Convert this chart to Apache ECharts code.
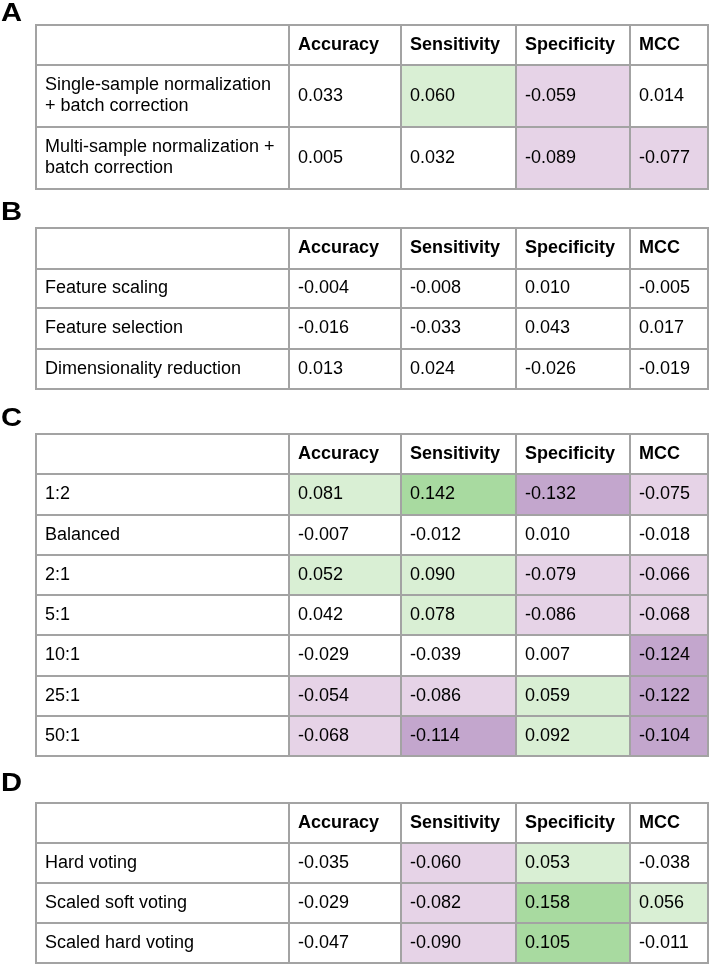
<!DOCTYPE html>
<html>
<head>
<meta charset="utf-8">
<script src="https://cdn.jsdelivr.net/npm/echarts@6/dist/echarts.min.js"></script>
<style>
html,body{margin:0;padding:0;background:#fff;}
#chart{width:709px;height:965px;}
</style>
</head>
<body>
<div id="chart"></div>
<script>
// ---------- DATA ----------
const panelLabels = ['A', 'B', 'C', 'D'];
const columns = ['Accuracy', 'Sensitivity', 'Specificity', 'MCC'];

const rowsA = ['Single-sample normalization\n+ batch correction', 'Multi-sample normalization +\nbatch correction'];
const valuesA = [
  [0.033, 0.060, -0.059, 0.014],
  [0.005, 0.032, -0.089, -0.077]
];

const rowsB = ['Feature scaling', 'Feature selection', 'Dimensionality reduction'];
const valuesB = [
  [-0.004, -0.008, 0.010, -0.005],
  [-0.016, -0.033, 0.043, 0.017],
  [0.013, 0.024, -0.026, -0.019]
];

const rowsC = ['1:2', 'Balanced', '2:1', '5:1', '10:1', '25:1', '50:1'];
const valuesC = [
  [0.081, 0.142, -0.132, -0.075],
  [-0.007, -0.012, 0.010, -0.018],
  [0.052, 0.090, -0.079, -0.066],
  [0.042, 0.078, -0.086, -0.068],
  [-0.029, -0.039, 0.007, -0.124],
  [-0.054, -0.086, 0.059, -0.122],
  [-0.068, -0.114, 0.092, -0.104]
];

const rowsD = ['Hard voting', 'Scaled soft voting', 'Scaled hard voting'];
const valuesD = [
  [-0.035, -0.060, 0.053, -0.038],
  [-0.029, -0.082, 0.158, 0.056],
  [-0.047, -0.090, 0.105, -0.011]
];

// colour thresholds (value bins)
const colorBins = [-0.1, -0.05, 0.05, 0.1];

// ---------- LAYOUT / STYLE ----------
const FONT = '"Liberation Sans", Arial, Helvetica, sans-serif';
const LINE = '#a3a3a3';
const colWidths = [253, 112, 115, 114, 78];
const tableLeft = 36;
const tableTops = [25, 228, 434, 803];
const rowHeightsList = [
  [40, 62, 62],
  [41, 39, 41, 40],
  [40, 41, 40, 40, 40, 41, 40, 40],
  [40, 40, 40, 40]
];
const labelCenters = [13.5, 212.5, 418.5, 783.5];
const palette = {
  darkNeg: '#c3a6cd',
  lightNeg: '#e6d3e7',
  neutral: '#ffffff',
  lightPos: '#d9efd4',
  darkPos: '#a8daa0'
};

function edges(arr) {
  const e = [0];
  arr.forEach(v => e.push(e[e.length - 1] + v));
  return e;
}
const colEdges = edges(colWidths);
const tableWidth = colEdges[colEdges.length - 1];

const tables = [
  { rows: rowsA, values: valuesA },
  { rows: rowsB, values: valuesB },
  { rows: rowsC, values: valuesC },
  { rows: rowsD, values: valuesD }
];

function cellRect(api, c, r, rowEdges) {
  const p0 = api.coord([colEdges[c], rowEdges[r]]);
  const p1 = api.coord([colEdges[c + 1], rowEdges[r + 1]]);
  return {
    x: Math.min(p0[0], p1[0]),
    y: Math.min(p0[1], p1[1]),
    width: Math.abs(p1[0] - p0[0]),
    height: Math.abs(p1[1] - p0[1])
  };
}

function makeCell(rect, fill, text, bold) {
  return {
    type: 'group',
    children: [
      {
        type: 'rect',
        shape: rect,
        style: { fill: fill, stroke: LINE, lineWidth: 2 }
      },
      {
        type: 'text',
        x: rect.x + 9,
        y: rect.y + rect.height / 2,
        style: {
          text: text,
          fill: '#000',
          font: (bold ? 'bold ' : '') + '18px ' + FONT,
          lineHeight: 21,
          textAlign: 'left',
          textVerticalAlign: 'middle'
        }
      }
    ]
  };
}

const grids = [], xAxes = [], yAxes = [], series = [], numericSeries = [];
tables.forEach((t, i) => {
  const rowEdges = edges(rowHeightsList[i]);
  const h = rowEdges[rowEdges.length - 1];
  grids.push({ left: tableLeft, top: tableTops[i], width: tableWidth, height: h });
  xAxes.push({ type: 'value', gridIndex: i, min: 0, max: tableWidth, show: false });
  yAxes.push({ type: 'value', gridIndex: i, min: 0, max: h, inverse: true, show: false });

  // frame: header row + row-label column
  const frameData = [];
  for (let c = 0; c <= columns.length; c++) frameData.push([c, 0]);
  for (let r = 1; r <= t.rows.length; r++) frameData.push([0, r]);
  series.push({
    type: 'custom',
    xAxisIndex: i, yAxisIndex: i,
    silent: true,
    data: frameData,
    renderItem: function (params, api) {
      const c = api.value(0), r = api.value(1);
      const rect = cellRect(api, c, r, rowEdges);
      const text = r === 0 ? (c === 0 ? '' : columns[c - 1]) : t.rows[r - 1];
      return makeCell(rect, '#ffffff', text, r === 0);
    }
  });

  // numeric cells
  const numData = [];
  t.values.forEach((row, r) => row.forEach((v, c) => numData.push([c + 1, r + 1, v])));
  numericSeries.push(series.length);
  series.push({
    type: 'custom',
    xAxisIndex: i, yAxisIndex: i,
    silent: true,
    data: numData,
    renderItem: function (params, api) {
      const c = api.value(0), r = api.value(1), v = api.value(2);
      const rect = cellRect(api, c, r, rowEdges);
      return makeCell(rect, api.visual('color'), v.toFixed(3), false);
    }
  });
});

const chart = echarts.init(document.getElementById('chart'), null, { renderer: 'canvas' });
chart.setOption({
  backgroundColor: '#ffffff',
  animation: false,
  grid: grids,
  xAxis: xAxes,
  yAxis: yAxes,
  visualMap: {
    type: 'piecewise',
    show: false,
    dimension: 2,
    seriesIndex: numericSeries,
    pieces: [
      { lt: colorBins[0], color: palette.darkNeg },
      { gte: colorBins[0], lt: colorBins[1], color: palette.lightNeg },
      { gte: colorBins[1], lt: colorBins[2], color: palette.neutral },
      { gte: colorBins[2], lt: colorBins[3], color: palette.lightPos },
      { gte: colorBins[3], color: palette.darkPos }
    ]
  },
  graphic: panelLabels.map((L, i) => ({
    type: 'text',
    x: 1,
    y: labelCenters[i],
    scaleX: 1.12,
    style: {
      text: L,
      fill: '#000',
      font: 'bold 26px ' + FONT,
      textAlign: 'left',
      textVerticalAlign: 'middle'
    }
  })),
  series: series
});
</script>
</body>
</html>
